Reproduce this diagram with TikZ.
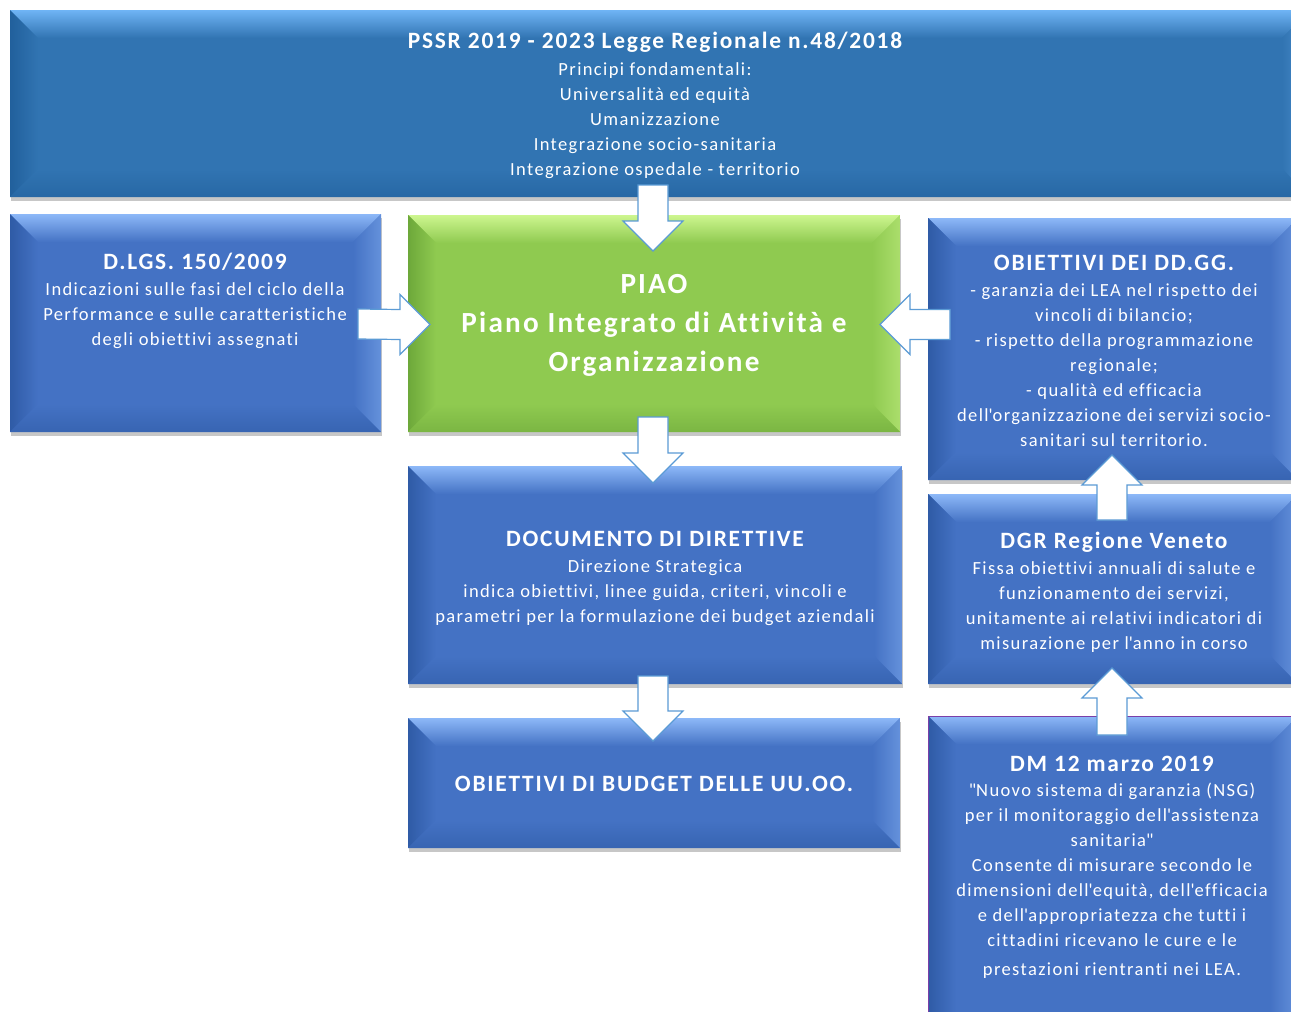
\documentclass[tikz,border=0pt]{standalone}
\usepackage{fontspec}
\setmainfont{Carlito}[LetterSpace=7.5, Ligatures=NoCommon]
\usetikzlibrary{calc,shadows}

\definecolor{topblue}{HTML}{3174B2}
\definecolor{topblueL}{HTML}{6FB4F5}
\definecolor{topblueD}{HTML}{21609C}
\definecolor{bblue}{HTML}{4472C4}
\definecolor{bblueL}{HTML}{8DB8F8}
\definecolor{bblueD}{HTML}{2F5BA6}
\definecolor{pgreen}{HTML}{8FCA50}
\definecolor{pgreenL}{HTML}{CDF68F}
\definecolor{pgreenD}{HTML}{6DA83A}
\definecolor{arrline}{HTML}{5B9BD5}
\definecolor{dmpurple}{HTML}{7B3FA8}

\newcommand\apo{\textquotesingle}
\newcommand\dq{\textquotedbl}
\newcommand\ttlfont{\fontsize{23.4}{25}\selectfont\bfseries}

% bevel: node, base, light, dark
\newcommand\bevel[4]{%
 \shade[top color=#3, bottom color=#2] (#1.north west) -- (#1.north east) -- ($(#1.north east)+(-28,28)$) -- ($(#1.north west)+(28,28)$) -- cycle;
 \shade[left color=#4, right color=#2] (#1.north west) -- ($(#1.north west)+(28,28)$) -- ($(#1.south west)+(28,-28)$) -- (#1.south west) -- cycle;
 \shade[left color=#2, right color=#3!45!#2] (#1.north east) -- ($(#1.north east)+(-28,28)$) -- ($(#1.south east)+(-28,-28)$) -- (#1.south east) -- cycle;
 \shade[top color=#2, bottom color=#4!60!#2] (#1.south west) -- ($(#1.south west)+(28,-28)$) -- ($(#1.south east)+(-28,-28)$) -- (#1.south east) -- cycle;
}

% block arrow: tail, tip, ux, uy (unit direction, y downwards)
\newcommand\blockarrow[4]{%
 \draw[barrow] ($(#1)+({-15*(#4)},{15*(#3)})$)
 -- ($(#2)+({-30*(#3)-15*(#4)},{-30*(#4)+15*(#3)})$)
 -- ($(#2)+({-30*(#3)-30*(#4)},{-30*(#4)+30*(#3)})$)
 -- (#2)
 -- ($(#2)+({-30*(#3)+30*(#4)},{-30*(#4)-30*(#3)})$)
 -- ($(#2)+({-30*(#3)+15*(#4)},{-30*(#4)-15*(#3)})$)
 -- ($(#1)+({15*(#4)},{-15*(#3)})$) -- cycle;
}

\tikzset{
 box/.style={rectangle, anchor=north west, inner sep=0pt, outer sep=0pt, draw=none,
   drop shadow={shadow xshift=1pt, shadow yshift=-4pt, opacity=0.22, fill=black}},
 barrow/.style={fill=white, draw=arrline, line width=1.2pt, line join=miter},
 txt/.style={text=white, align=center, inner sep=0pt, font=\fontsize{18.5}{25}\selectfont},
 ttl/.style={font=\ttlfont},
}

\begin{document}
\begin{tikzpicture}[x=1pt,y=-1pt]
\useasboundingbox (0,0) rectangle (1291,1012);
\fill[white] (0,0) rectangle (1291,1012);
\clip (0,0) rectangle (1291,1012);

% boxes
\node[box, fill=topblue, minimum width=1300, minimum height=187] (top) at (10,10) {};
\node[box, fill=bblue, minimum width=371, minimum height=218] (dlgs) at (10,214) {};
\node[box, fill=pgreen, minimum width=492, minimum height=217] (piao) at (408,215) {};
\node[box, fill=bblue, minimum width=494, minimum height=218] (doc) at (408,466) {};
\node[box, fill=bblue, minimum width=492, minimum height=130] (budget) at (408,718) {};
\node[box, fill=bblue, minimum width=370, minimum height=262] (obj) at (928,218) {};
\node[box, fill=bblue, minimum width=370, minimum height=190] (dgr) at (928,494) {};
\node[box, fill=bblue, minimum width=370, minimum height=330] (dm) at (928,716) {};

\bevel{top}{topblue}{topblueL}{topblueD}
\bevel{dlgs}{bblue}{bblueL}{bblueD}
\bevel{piao}{pgreen}{pgreenL}{pgreenD}
\bevel{doc}{bblue}{bblueL}{bblueD}
\bevel{budget}{bblue}{bblueL}{bblueD}
\bevel{obj}{bblue}{bblueL}{bblueD}
\bevel{dgr}{bblue}{bblueL}{bblueD}
\bevel{dm}{bblue}{bblueL}{bblueD}
\draw[dmpurple, line width=1pt] (dm.south west) -- (dm.north west) -- (dm.north east);

% texts
\node[txt] (ttop) at (655,105) {{\ttlfont PSSR 2019 - 2023 Legge Regionale n.48/2018}\\[2pt]
 Principi fondamentali:\\ Universalità ed equità\\ Umanizzazione\\ Integrazione socio-sanitaria\\ Integrazione ospedale - territorio};

\node[txt] (tdlgs) at (195,301) {{\ttlfont D.LGS. 150/2009}\\[1pt]
 Indicazioni sulle fasi del ciclo della\\ Performance e sulle caratteristiche\\ degli obiettivi assegnati};

\node[txt, font=\fontsize{29.2}{39}\selectfont\bfseries] (tpiao) at (654,325) {PIAO\\ Piano Integrato di Attività e\\ Organizzazione};

\node[txt] (tobj) at (1114,351) {{\ttlfont OBIETTIVI DEI DD.GG.}\\[1pt]
 - garanzia dei LEA nel rispetto dei\\ vincoli di bilancio;\\ - rispetto della programmazione\\ regionale;\\ - qualità ed efficacia\\ dell\apo organizzazione dei servizi socio-\\ sanitari sul territorio.};

\node[txt] (tdgr) at (1114,592) {{\ttlfont DGR Regione Veneto}\\[1pt]
 Fissa obiettivi annuali di salute e\\ funzionamento dei servizi,\\ unitamente ai relativi indicatori di\\ misurazione per l\apo anno in corso};

\node[txt] (tdm) at (1112,867) {{\ttlfont DM 12 marzo 2019}\\[0pt]
 \dq Nuovo sistema di garanzia (NSG)\\ per il monitoraggio dell\apo assistenza\\ sanitaria\dq\\ Consente di misurare secondo le\\ dimensioni dell\apo equità, dell\apo efficacia\\ e dell\apo appropriatezza che tutti i\\ cittadini ricevano le cure e le\\[4pt] prestazioni rientranti nei LEA.};

\node[txt] (tdoc) at (655,578) {{\ttlfont DOCUMENTO DI DIRETTIVE}\\[1pt]
 Direzione Strategica\\ indica obiettivi, linee guida, criteri, vincoli e\\ parametri per la formulazione dei budget aziendali};

\node[txt, ttl] (tbud) at (654,784) {OBIETTIVI DI BUDGET DELLE UU.OO.};

% arrows
\coordinate (a1s) at ($(top.south -| piao.north)+(-1,-12)$);
\coordinate (a1e) at ($(piao.north)+(-1,36)$);
\blockarrow{a1s}{a1e}{0}{1}

\coordinate (a2s) at ($(dlgs.east)+(-23,1)$);
\coordinate (a2e) at ($(piao.west)+(22,1)$);
\blockarrow{a2s}{a2e}{1}{0}

\coordinate (a3s) at ($(obj.west |- piao.east)+(22,1)$);
\coordinate (a3e) at ($(piao.east)+(-20,1)$);
\blockarrow{a3s}{a3e}{-1}{0}

\coordinate (a4s) at ($(piao.south)+(-1,-15)$);
\coordinate (a4e) at ($(doc.north -| piao.south)+(-1,17)$);
\blockarrow{a4s}{a4e}{0}{1}

\coordinate (a5s) at ($(doc.south -| piao.south)+(-1,-8)$);
\coordinate (a5e) at ($(budget.north)+(-1,23)$);
\blockarrow{a5s}{a5e}{0}{1}

\coordinate (a6s) at ($(dgr.north)+(-1,26)$);
\coordinate (a6e) at ($(obj.south)+(-1,-25)$);
\blockarrow{a6s}{a6e}{0}{-1}

\coordinate (a7s) at ($(dm.north)+(-1,19)$);
\coordinate (a7e) at ($(dgr.south)+(-1,-16)$);
\blockarrow{a7s}{a7e}{0}{-1}
\end{tikzpicture}
\end{document}
